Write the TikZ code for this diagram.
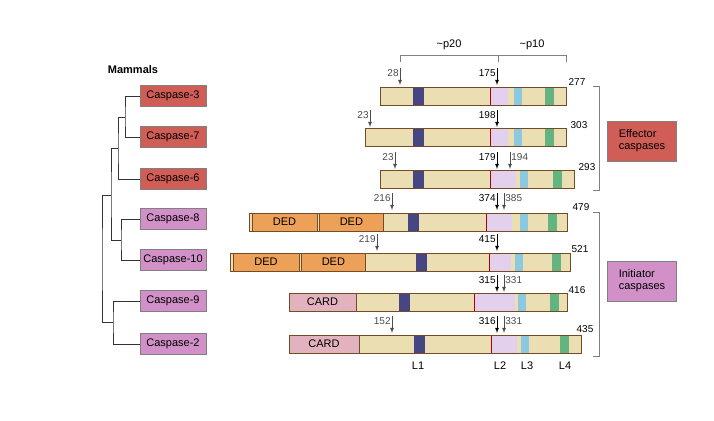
\documentclass[tikz,border=0pt]{standalone}
\usepackage{fontspec}
\setmainfont{Liberation Sans}
\usetikzlibrary{positioning}
\definecolor{tan}{RGB}{234,222,178}
\definecolor{effred}{RGB}{196,52,44}
\definecolor{inipur}{RGB}{190,96,176}
\definecolor{dedor}{RGB}{236,160,88}
\definecolor{cardpk}{RGB}{226,178,190}
\definecolor{lone}{RGB}{70,70,130}
\definecolor{ltwo}{RGB}{226,208,236}
\definecolor{lthree}{RGB}{140,200,224}
\definecolor{lfour}{RGB}{100,180,130}
% bar: y, start, end, L1, red mark, L2 end, L3, L4
\newcommand\casbar[8]{%
  \fill[tan] (#2,#1-9) rectangle (#3,#1+9);
  \fill[lone] (#4,#1-9) rectangle ++(11,18);
  \fill[ltwo] (#5,#1-9) rectangle (#6,#1+9);
  \draw[red!70!black, thick] (#5,#1-9) -- (#5,#1+9);
  \fill[lthree] (#7,#1-9) rectangle ++(8,18);
  \fill[lfour] (#8,#1-9) rectangle ++(9,18);
  \draw[brown!60!black] (#2,#1-9) rectangle (#3,#1+9);}
\newcommand\bigf{\fontsize{11}{12}\selectfont}
\newcommand\numf{\fontsize{10}{11}\selectfont}
\begin{document}
\begin{tikzpicture}[x=1pt,y=-1pt,
    caslabel/.style={rectangle, minimum width=66pt, minimum height=21pt, inner sep=0pt, draw=gray, font=\bigf},
    grp/.style={rectangle, minimum width=69pt, minimum height=40pt, align=left, inner sep=2pt, draw=gray, font=\bigf},
    dom/.style={rectangle, draw=brown!60!black, inner sep=0pt, font=\bigf},
    gcut/.style={-latex, thick, gray!60!black},
    bcut/.style={-latex, thick, black},
    num/.style={font=\numf, inner sep=1pt},
    tree/.style={thick, black!80}
  ]
  \useasboundingbox (0,0) rectangle (714,420);
  \fill[white] (0,0) rectangle (714,420);

  % labels
  \node[font=\bigf\bfseries] (mam) at (133,70) {Mammals};
  \node[caslabel, fill=effred!80] (c3) at (173,96) {Caspase-3};
  \node[caslabel, fill=effred!80] (c7) at (173,137) {Caspase-7};
  \node[caslabel, fill=effred!80] (c6) at (173,179) {Caspase-6};
  \node[caslabel, fill=inipur!70] (c8) at (173,219) {Caspase-8};
  \node[caslabel, fill=inipur!70] (c10) at (173,260) {Caspase-10};
  \node[caslabel, fill=inipur!70] (c9) at (173,301) {Caspase-9};
  \node[caslabel, fill=inipur!70] (c2) at (173,344) {Caspase-2};

  % tree
  \draw[tree] (c3.west) -| (125,117) |- (c7.west);
  \draw[tree] (125,117) -| (118,148) |- (c6.west);
  \draw[tree] (c8.west) -| (121,240) |- (c10.west);
  \draw[tree] (118,148) -| (111,195) |- (121,240);
  \draw[tree] (c9.west) -| (113,322) |- (c2.west);
  \draw[tree] (111,195) -| (102,260) |- (113,322);

  % bars
  \casbar{96}{380}{566}{413}{490}{508}{514}{545}
  \casbar{137}{365}{566}{413}{490}{508}{514}{545}
  \casbar{179}{380}{574}{413}{490}{516}{520}{553}
  \casbar{222}{249}{567}{408}{486}{512}{520}{548}
  \node[dom, fill=dedor, minimum width=65pt, minimum height=18pt] (ded1) at (284.5,222) {DED};
  \node[dom, fill=dedor, minimum width=64pt, minimum height=18pt, right=2pt of ded1] (ded2) {DED};
  \casbar{262}{230}{570}{416}{489}{511}{515}{552}
  \node[dom, fill=dedor, minimum width=66pt, minimum height=18pt] (ded3) at (266,262) {DED};
  \node[dom, fill=dedor, minimum width=64pt, minimum height=18pt, right=2pt of ded3] (ded4) {DED};
  \casbar{302}{289}{567}{399}{474}{515}{518}{550}
  \node[dom, fill=cardpk, minimum width=67pt, minimum height=18pt] (card1) at (322.5,302) {CARD};
  \casbar{344}{289}{581}{414}{491}{517}{521}{560}
  \node[dom, fill=cardpk, minimum width=70pt, minimum height=18pt] (card2) at (324,344) {CARD};

  % cleavage sites
  \foreach \x/\y/\t/\s in {400/68/28/gcut, 497/68/175/bcut, 370/110/23/gcut, 497/110/198/bcut,
      395/152/23/gcut, 497/152/179/bcut, 392/193/216/gcut, 497/193/374/bcut,
      377/234/219/gcut, 497/234/415/bcut, 497/275/315/bcut, 392/316/152/gcut, 497/316/316/bcut}
    \draw[\s] (\x,\y) node[num, anchor=north east] {\t} -- ++(0,17);
  \foreach \x/\y/\t in {510/152/194, 504/193/385, 504/275/331, 504/316/331}
    \draw[gcut] (\x,\y) node[num, anchor=north west] {\t} -- ++(0,17);

  % lengths
  \foreach \x/\y/\t in {577/82/277, 579/125/303, 587/167/293, 581/207/479, 580/249/521, 577/290/416, 585/329/435}
    \node[num] at (\x,\y) {\t};

  % loops
  \foreach \x/\t in {418/L1, 500/L2, 527/L3, 565/L4}
    \node[font=\bigf] at (\x,366) {\t};

  % p20 / p10
  \draw[gray] (400,62) -- (400,55) -- (566,55) -- (566,62);
  \draw[gray] (498,55) -- (498,62);
  \node[font=\bigf] (p20) at (449,45) {\textasciitilde p20};
  \node[font=\bigf] (p10) at (532,45) {\textasciitilde p10};

  % groups
  \draw[gray] (593,86) -- (599,86) -- (599,190) -- (593,190);
  \draw[gray] (593,212) -- (599,212) -- (599,356) -- (593,356);
  \node[grp, fill=effred!80] (eff) at (642,141) {Effector\\caspases};
  \node[grp, fill=inipur!70] (ini) at (642,281) {Initiator\\caspases};
\end{tikzpicture}
\end{document}
